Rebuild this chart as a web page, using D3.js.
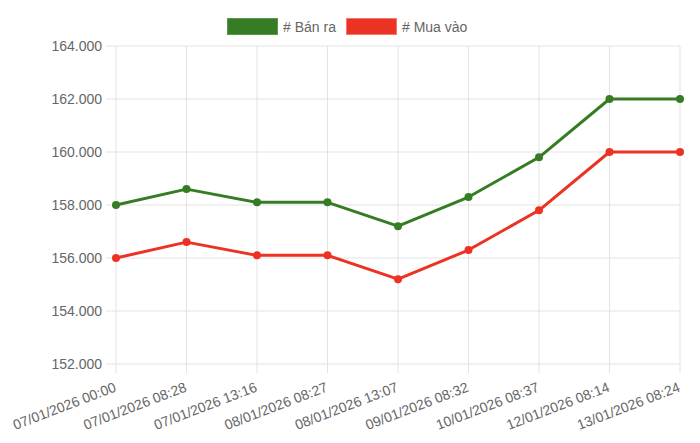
<!DOCTYPE html>
<html>
<head>
<meta charset="utf-8">
<script src="https://cdn.jsdelivr.net/npm/d3@7"></script>
<style>
	body { margin: 0; background: #fff; }
	svg { display: block; font-family: "Liberation Sans", Arial, Helvetica, sans-serif; }
</style>
</head>
<body>
<div id="chart"></div>
<script>
// dữ liệu
var labels = ["07/01/2026 00:00", "07/01/2026 08:28", "07/01/2026 13:16", "08/01/2026 08:27",
	"08/01/2026 13:07", "09/01/2026 08:32", "10/01/2026 08:37", "12/01/2026 08:14", "13/01/2026 08:24"];
var banRa = [158000, 158600, 158100, 158100, 157200, 158300, 159800, 162000, 162000];
var muaVao = [156000, 156600, 156100, 156100, 155200, 156300, 157800, 160000, 160000];
var yTicks = [152000, 154000, 156000, 158000, 160000, 162000, 164000];
var seriesNames = ["# Bán ra", "# Mua vào"];
var seriesColors = ["#367c24", "#ec3323"];

drawchart()

function drawchart() {
	var W = 700, H = 443;
	var margin = { top: 46, right: 20, bottom: 79, left: 116 };

	var svg = d3.select("#chart")
		.append("svg")
		.attr("width", W)
		.attr("height", H);

	var x = d3.scalePoint()
		.domain(labels)
		.range([margin.left, W - margin.right]);
	var y = d3.scaleLinear()
		.domain([152000, 164000])
		.range([H - margin.bottom, margin.top]);

	var fmt = function(v) { return d3.format(",")(v).replace(/,/g, "."); };

	// lưới ngang + nhãn trục y
	var gy = svg.append("g");
	gy.selectAll("line")
		.data(yTicks)
		.join("line")
		.attr("x1", margin.left - 10)
		.attr("x2", W - margin.right)
		.attr("y1", d => y(d))
		.attr("y2", d => y(d))
		.attr("stroke", "#e3e3e3")
		.attr("stroke-width", 1);
	gy.selectAll("text")
		.data(yTicks)
		.join("text")
		.attr("x", margin.left - 14)
		.attr("y", d => y(d))
		.attr("dy", "0.35em")
		.attr("text-anchor", "end")
		.attr("fill", "#666")
		.style("font-size", "14px")
		.text(fmt);

	// lưới dọc + nhãn trục x
	var gx = svg.append("g");
	gx.selectAll("line")
		.data(labels)
		.join("line")
		.attr("x1", d => x(d))
		.attr("x2", d => x(d))
		.attr("y1", margin.top)
		.attr("y2", H - margin.bottom + 9)
		.attr("stroke", "#e3e3e3")
		.attr("stroke-width", 1);
	gx.selectAll("text")
		.data(labels)
		.join("text")
		.attr("transform", d => `translate(${x(d) + 1},${H - margin.bottom + 27}) rotate(-21)`)
		.attr("text-anchor", "end")
		.attr("fill", "#666")
		.style("font-size", "14px")
		.text(d => d);

	// đường dữ liệu
	var series = [banRa, muaVao];
	var line = d3.line()
		.x((d, i) => x(labels[i]))
		.y(d => y(d));

	series.forEach(function(s, k) {
		svg.append("path")
			.datum(s)
			.attr("d", line)
			.attr("fill", "none")
			.attr("stroke", seriesColors[k])
			.attr("stroke-width", 3)
			.attr("stroke-linejoin", "round");
		svg.append("g")
			.selectAll("circle")
			.data(s)
			.join("circle")
			.attr("cx", (d, i) => x(labels[i]))
			.attr("cy", d => y(d))
			.attr("r", 4)
			.attr("fill", seriesColors[k]);
	});

	// chú thích
	var legend = svg.append("g");
	var lx = [227, 346];
	seriesNames.forEach(function(n, k) {
		legend.append("rect")
			.attr("x", lx[k] + 0.5)
			.attr("y", 18.5)
			.attr("width", 50)
			.attr("height", 16)
			.attr("fill", seriesColors[k])
			.attr("stroke", k == 0 ? "#5a9a46" : "#f5786d")
			.attr("stroke-width", 1);
		legend.append("text")
			.attr("x", lx[k] + 56)
			.attr("y", 27)
			.attr("dy", "0.35em")
			.attr("fill", "#666")
			.style("font-size", "14px")
			.text(n);
	});
}
</script>
</body>
</html>
